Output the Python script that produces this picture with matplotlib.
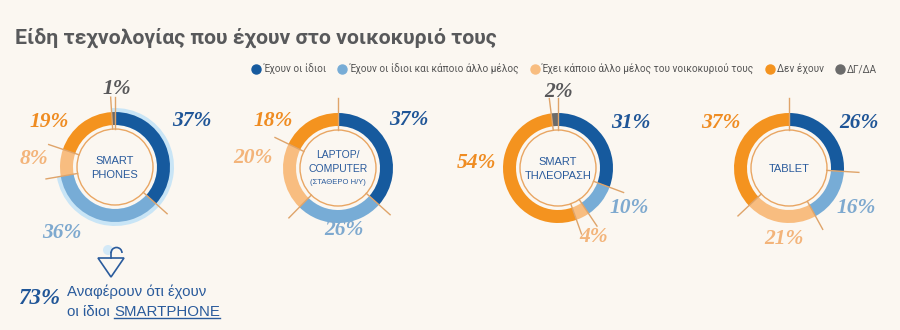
import numpy as np
import matplotlib.pyplot as plt
from matplotlib.lines import Line2D
from matplotlib.patches import Circle, Wedge, Polygon, Arc

W, H = 900, 330

title = "Είδη τεχνολογίας που έχουν στο νοικοκυριό τους"
categories = ["Έχουν οι ίδιοι", "Έχουν οι ίδιοι και κάποιο άλλο μέλος",
              "Έχει κάποιο άλλο μέλος του νοικοκυριού τους", "Δεν έχουν", "ΔΓ/ΔΑ"]
devices = ["SMART\nPHONES", "LAPTOP/\nCOMPUTER", "SMART\nΤΗΛΕΟΡΑΣΗ", "TABLET"]
device_notes = ["", "(ΣΤΑΘΕΡΟ Η/Υ)", "", ""]
smartphones = [37, 36, 8, 19, 1]
laptop = [37, 26, 20, 18, 0]
smart_tv = [31, 10, 4, 54, 2]
tablet = [26, 16, 21, 37, 0]
own_smartphone = 73

seg_colors = ["#165a9e", "#77acd6", "#f8bd80", "#f4931f", "#6b6b6b"]
lab_colors = ["#1f5597", "#7ea9cf", "#f3b47a", "#ef8c22", "#58585a"]
bg = "#fbf7f1"
line_col = "#dfa46a"
blue_txt = "#2a5b9c"

narrow = ["Roboto", "DejaVu Sans"]
serif = ["Liberation Serif", "DejaVu Serif"]
sans = ["Liberation Sans", "DejaVu Sans"]

# layout (pixels, y from top)
centers = [(115, 167), (338, 168), (558, 168), (789, 168)]
label_offsets = [
    [(77, -46), (-53, 66), (-81, -8), (-66, -45), (2, -78)],
    [(71, -48), (6, 62), (-85, -10), (-65, -47), None],
    [(73, -45), (71, 40), (36, 69), (-82, -5), (1, -76)],
    [(70, -45), (67, 40), (-5, 71), (-68, -45), None],
]
R_OUT, RING_W, R_IN_CIRCLE, R_TICK = 55, 13, 38, 70


def Y(y):
    return H - y


fig = plt.figure(figsize=(9, 3.3), dpi=100, facecolor=bg)
ax = fig.add_axes([0, 0, 1, 1])
ax.set_facecolor(bg)

fig.text(15 / W, 1 - 38 / H, title, fontsize=15.3, fontweight="bold", color="#58595b",
         family=narrow, va="center", ha="left")

all_values = [smartphones, laptop, smart_tv, tablet]
for i, vals in enumerate(all_values):
    cx, cy = centers[i]
    c = (cx, Y(cy))
    total = sum(vals)
    if i == 0:
        # glow behind what people own themselves
        frac = own_smartphone / total
        ax.add_patch(Wedge(c, R_OUT + 4, 90 - 360 * frac, 93, width=17,
                           color="#c9e5f6", lw=0, zorder=1))
    ax.pie(vals, colors=seg_colors, radius=R_OUT, center=c, startangle=90,
           counterclock=False, wedgeprops=dict(width=RING_W, linewidth=0, zorder=2),
           frame=True)
    ax.add_patch(Circle(c, R_IN_CIRCLE, fill=False, ec="#e9a663", lw=1, zorder=3))
    cum = 0
    for v in vals:
        if v > 0:
            ang = np.deg2rad(90 - 360 * cum / total)
            ax.plot([c[0] + R_IN_CIRCLE * np.cos(ang), c[0] + R_TICK * np.cos(ang)],
                    [c[1] + R_IN_CIRCLE * np.sin(ang), c[1] + R_TICK * np.sin(ang)],
                    color=line_col, lw=1, zorder=4)
        cum += v
    for j, v in enumerate(vals):
        if v == 0:
            continue
        dx, dy = label_offsets[i][j]
        ax.text(cx + dx, Y(cy + dy), f"{v}%", color=lab_colors[j], fontsize=15.5,
                family=serif, fontweight="bold", fontstyle="italic",
                ha="center", va="center", zorder=5)
    if device_notes[i]:
        ax.text(cx, Y(cy - 6), devices[i], color=blue_txt, fontsize=7.5, family=sans,
                ha="center", va="center", linespacing=1.6, zorder=5)
        ax.text(cx, Y(cy + 14), device_notes[i], color=blue_txt, fontsize=5.5,
                family=sans, ha="center", va="center", zorder=5)
    else:
        ax.text(cx, Y(cy + 1), devices[i], color=blue_txt, fontsize=8, family=sans,
                ha="center", va="center", linespacing=1.6, zorder=5)

# legend
handles = [Line2D([], [], ls="", marker="o", ms=6.5, mfc=col, mec=col)
           for col in seg_colors]
fig.legend(handles, categories, ncol=5, loc="center right",
           bbox_to_anchor=(882 / W, 1 - 69 / H), frameon=False,
           prop=dict(family=narrow, size=7.2), labelcolor="#555555",
           handletextpad=0.2, columnspacing=1.1, handlelength=1.0, borderpad=0)

# arrow icon under the smartphone chart
ax.add_patch(Circle((108, Y(250)), 5, color="#d3e9f7", lw=0, zorder=1))
ax.add_patch(Polygon([(98, Y(258)), (124, Y(258)), (111, Y(277))], closed=True,
                     fill=False, ec=blue_txt, lw=1.2, zorder=3))
ax.plot([111, 111], [Y(258), Y(253)], color=blue_txt, lw=1.2, zorder=3)
ax.add_patch(Arc((116.5, Y(253)), 11, 11, theta1=0, theta2=180, ec=blue_txt,
                 lw=1.2, zorder=3))

ax.text(39, Y(299), f"{own_smartphone}%", color="#1f5597", fontsize=16.5, family=serif,
        fontweight="bold", fontstyle="italic", ha="center", va="center")
ax.text(67, Y(292), "Αναφέρουν ότι έχουν", color=blue_txt, fontsize=10.8,
        family=sans, ha="left", va="center")
ax.text(67, Y(312), "οι ίδιοι", color=blue_txt, fontsize=10.8, family=sans,
        ha="left", va="center")
sp = ax.text(114, Y(312), "SMARTPHONE", color=blue_txt, fontsize=10.8, family=sans,
             ha="left", va="center")

ax.set_xlim(0, W)
ax.set_ylim(0, H)
ax.set_aspect("equal")
ax.axis("off")

fig.canvas.draw()
bb = sp.get_window_extent().transformed(ax.transData.inverted())
ax.plot([bb.x0, bb.x1], [bb.y0 + 1, bb.y0 + 1], color=blue_txt, lw=1)

fig.savefig("out.png", dpi=100, facecolor=bg)
